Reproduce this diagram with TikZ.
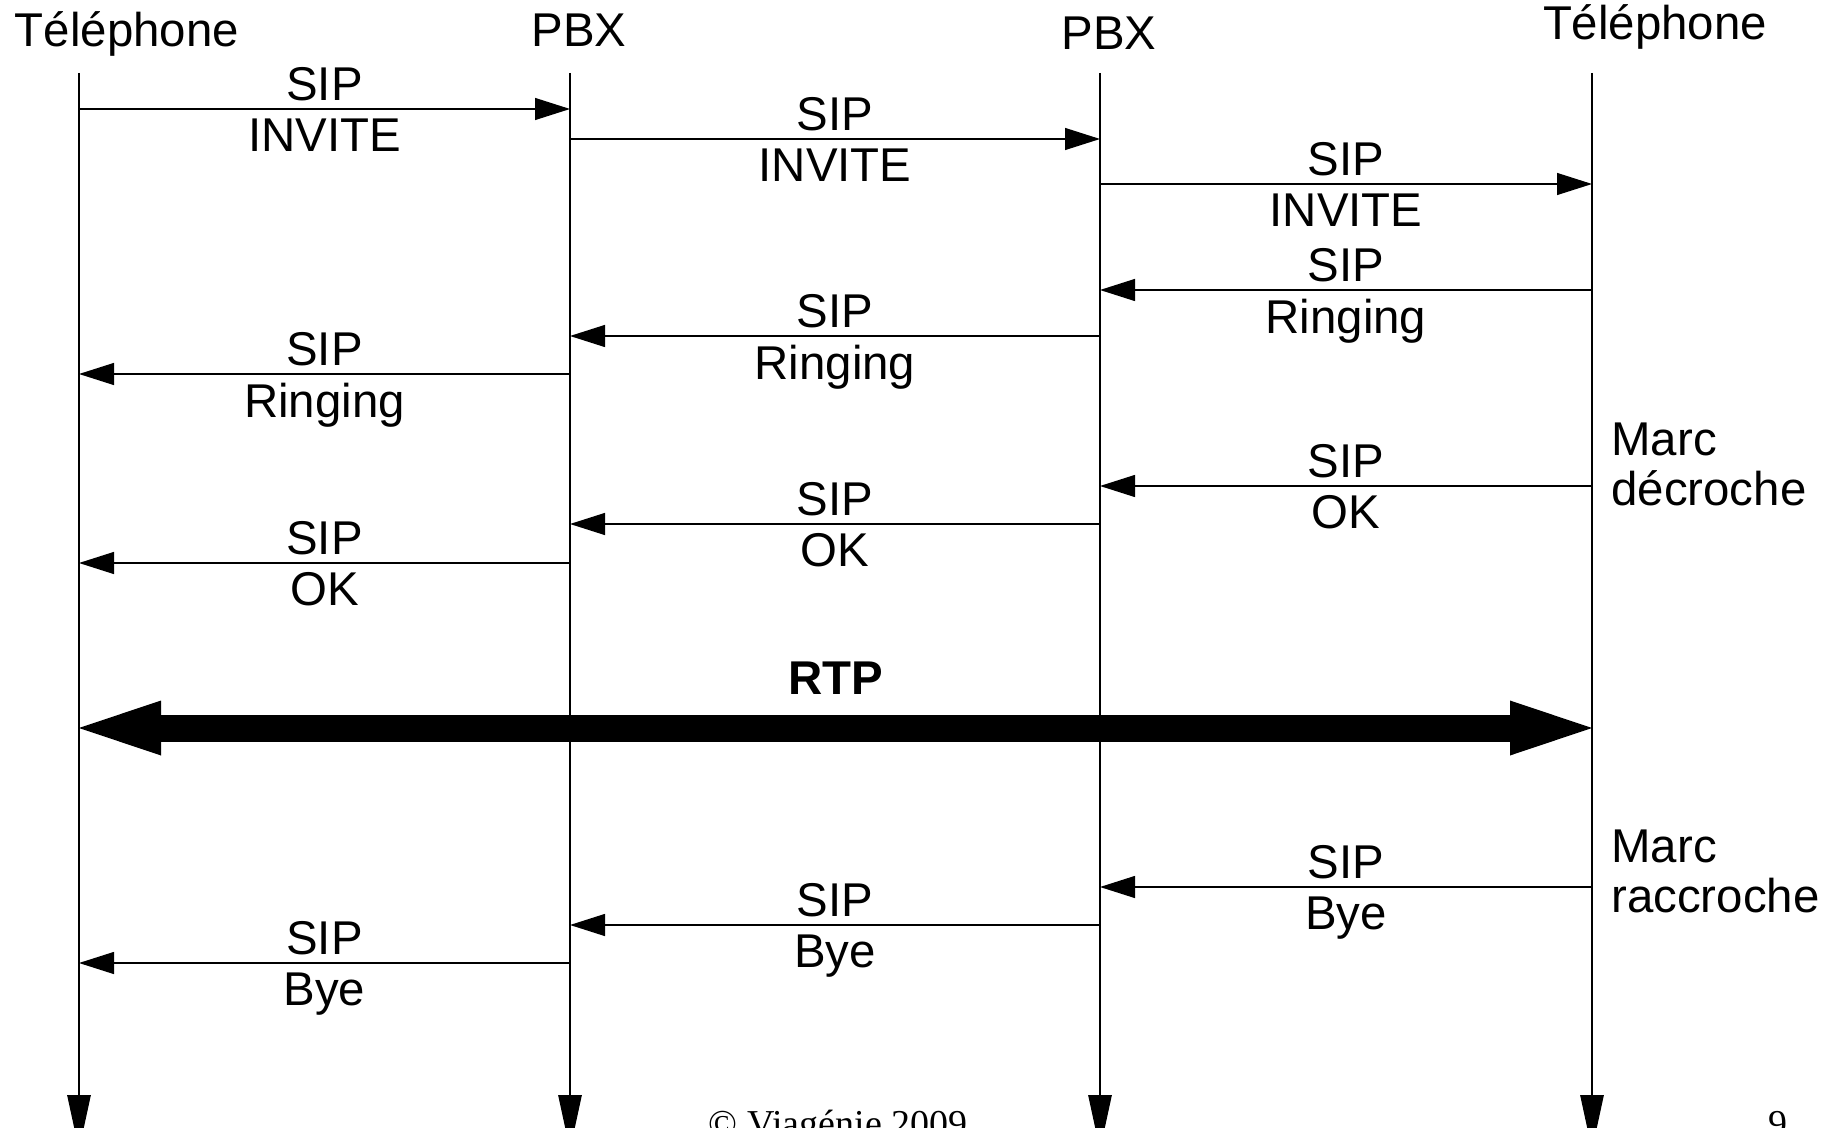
\documentclass[tikz,border=0pt]{standalone}
\usepackage{fontspec}
\setmainfont{Liberation Sans}
\newfontfamily\footfont{Liberation Serif}
\usetikzlibrary{arrows.meta}
\tikzset{every node/.style={align=center, inner sep=0pt}, >={Triangle[length=17.5pt,width=11pt]},
  font=\fontsize{23.7}{25}\selectfont}
\tikzset{life/.style={line width=0.6pt, -{Triangle[length=27.5pt,width=11.75pt]}},
  msg/.style={line width=0.6pt, ->},
  rtp/.style={line width=13.5pt, {Triangle[length=41pt,width=27.5pt,line width=0pt]}-{Triangle[length=41pt,width=27.5pt,line width=0pt]}}}

\begin{document}
\begin{tikzpicture}[x=0.5pt, y=-0.5pt]
    \useasboundingbox (0,0) rectangle (1842,1128);

    % lifelines
    \foreach \n/\x in {t1/79, p1/570, p2/1100, t2/1592} {
        \coordinate (\n top) at (\x,73);
        \coordinate (\n bot) at (\x,1150);
        \draw [life] (\n top) -- (\n bot);
    }

    % participants
    \node [anchor=base] (h1) at (127,47) {Téléphone};
    \node [anchor=base] (h2) at (579,47) {PBX};
    \node [anchor=base] (h3) at (1109,50) {PBX};
    \node [anchor=base] (h4) at (1655,40) {Téléphone};

    % SIP messages
    \foreach \i/\a/\b/\y/\txt in {1/t1/p1/109/INVITE, 2/p1/p2/139/INVITE, 3/p2/t2/184/INVITE,
            4/t2/p2/290/Ringing, 5/p2/p1/336/Ringing, 6/p1/t1/374/Ringing,
            7/t2/p2/486/OK, 8/p2/p1/524/OK, 9/p1/t1/563/OK,
            10/t2/p2/887/Bye, 11/p2/p1/925/Bye, 12/p1/t1/963/Bye} {
        \coordinate (m\i s) at (\a top |- 0,\y);
        \coordinate (m\i e) at (\b top |- 0,\y);
        \path [msg] (m\i s) edge node [above=3.5pt] {SIP} node [below=4.5pt] {\txt} (m\i e);
    }

    % media
    \coordinate (r1) at (t1top |- 0,728);
    \coordinate (r2) at (t2top |- 0,728);
    \draw [rtp] (r1) -- node [above=10pt] {\bfseries RTP} (r2);

    \node [anchor=west, align=left] (n1) at (1611,464) {Marc\\décroche};
    \node [anchor=west, align=left] (n2) at (1611,871) {Marc\\raccroche};

    % footer
    \node [anchor=base, font=\footfont\fontsize{19}{21}\selectfont] (f1) at (838,1136) {© Viagénie 2009};
    \node [anchor=base, font=\footfont\fontsize{19}{21}\selectfont] (f2) at (1778,1136) {9};
\end{tikzpicture}
\end{document}
